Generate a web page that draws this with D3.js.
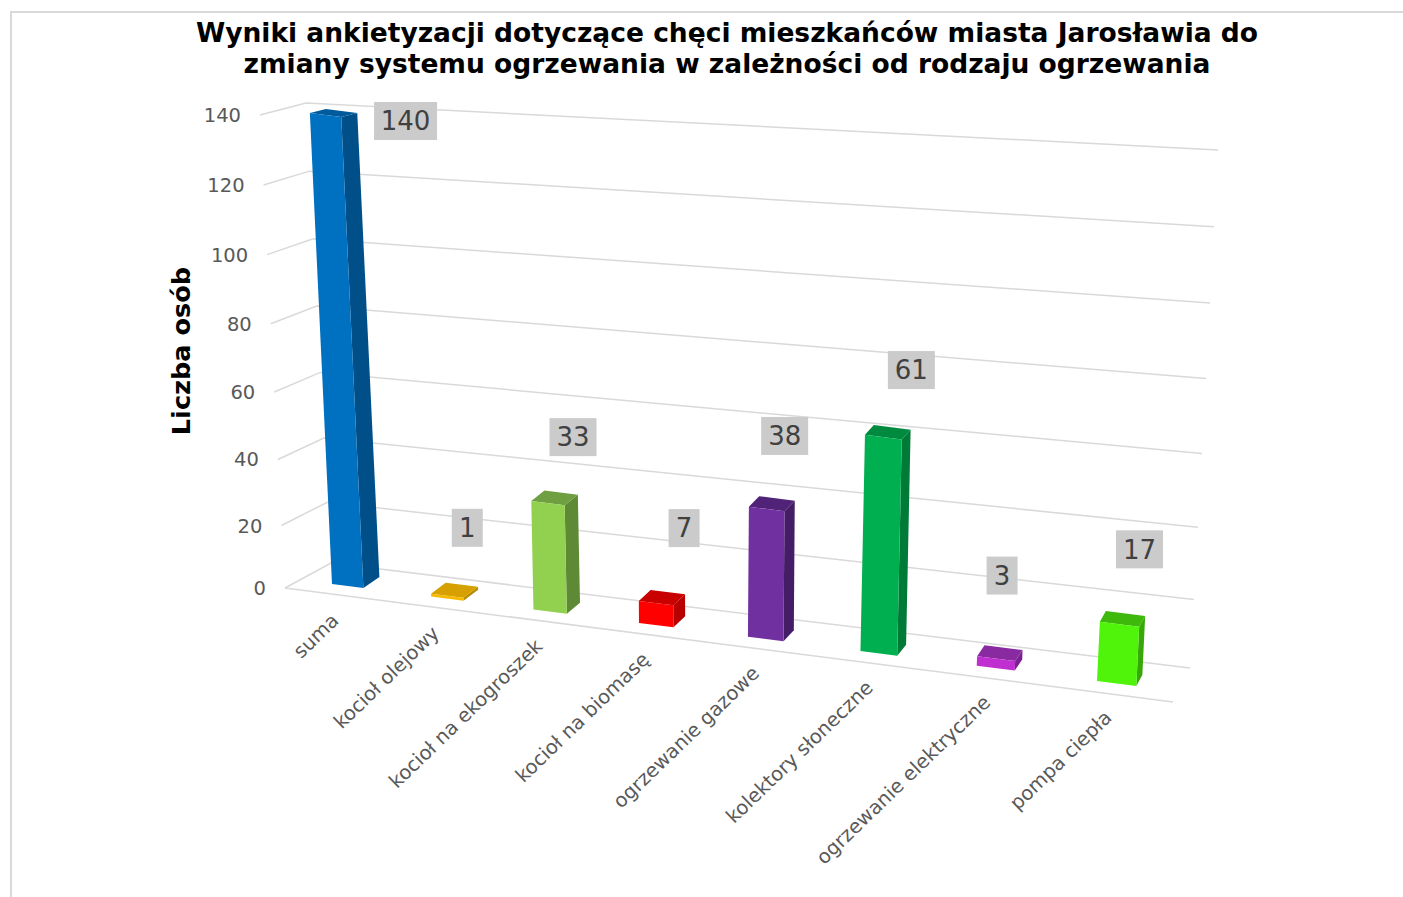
<!DOCTYPE html>
<html>
<head>
<meta charset="utf-8">
<title>Wyniki ankietyzacji</title>
<script src="https://cdnjs.cloudflare.com/ajax/libs/d3/7.8.5/d3.min.js"></script>
<style>
    body { margin: 0; background: #fff; }
    svg { display: block; }
    text { font-family: "DejaVu Sans", sans-serif; }
</style>
</head>
<body>
<div id="chart"></div>
<script>
var categories = ["suma", "kocioł olejowy", "kocioł na ekogroszek", "kocioł na biomasę", "ogrzewanie gazowe", "kolektory słoneczne", "ogrzewanie elektryczne", "pompa ciepła"];
var values = [140, 1, 33, 7, 38, 61, 3, 17];
var valueTicks = [0, 20, 40, 60, 80, 100, 120, 140];
var titleLines = ["Wyniki ankietyzacji dotyczące chęci mieszkańców miasta Jarosławia do", "zmiany systemu ogrzewania w zależności od rodzaju ogrzewania"];
var axisTitle = "Liczba osób";

// front, side, top
var barColors = [
    ["#0070c0", "#004f88", "#005a9c"],
    ["#f7b900", "#b88a00", "#d6a000"],
    ["#92d050", "#5f8a35", "#6f9f40"],
    ["#ff0000", "#b80000", "#c80000"],
    ["#7030a0", "#451d66", "#512378"],
    ["#00b050", "#007a37", "#008a3f"],
    ["#c030d0", "#7a2090", "#8a2aa0"],
    ["#4ff40a", "#38a808", "#3eb80a"]
];
// the labels were placed by hand in the original, offset from the bar top
var labelOffsets = [[80, 6], [20, -68], [25, -66], [28, -75], [18, -73], [28, -67], [6, -83], [20, -75]];

var width = 1403, height = 897;
var svg = d3.select("#chart").append("svg").attr("width", width).attr("height", height);

// frame
svg.append("path").attr("d", "M11,897V12H1403").attr("fill", "none").attr("stroke", "#d9d9d9").attr("stroke-width", 2);

// value scales, slightly non linear because of the 3d view
var wallY = function (r) { return d3.scalePow().exponent(1.04).domain([0, 140]).range(r); };
var wallX = function (r) { return d3.scaleLinear().domain([0, 140]).range(r); };
var frontX = wallX([285, 260]), frontY = wallY([588, 115]);
var backX = wallX([331, 306]), backY = wallY([563, 103]);
var rightX = wallX([1190, 1218]), rightY = wallY([668, 150]);

// category scales
var catScale = d3.scalePoint().domain(d3.range(categories.length)).range([0, 1]);
var k = 1.119;
var perspective = function (t) { return t / (k - (k - 1) * t); };
var floorX = d3.scaleLinear().domain([0, 1]).range([332, 1097]);
var floorY = d3.scaleLinear().domain([332, 1097]).range([584, 681]);
var barStep = 0.0457;
var leanScale = d3.scaleLinear().domain([0, 1]).range([-0.047, 0.048]);
var heightFrac = d3.scalePow().exponent(1.04).domain([0, 140]).range([0, 1]);
var heightScale = d3.scaleLinear().domain([0, 1]).range([471, 530]);
var depthDx = d3.scaleLinear().domain([0, 1]).range([16, 6]);
var depthDy = d3.scalePow().exponent(2).domain([0, 140]).range([-11, -4]);

var corner = function (t, side, depth, v) {
    var x0 = floorX(perspective(t + side * barStep));
    var h = heightFrac(v) * heightScale(t);
    return [
        x0 + leanScale(t) * h + depth * depthDx(t),
        floorY(x0) - h + depth * depthDy(v)
    ];
};
var line = d3.line();
var poly = function (pts) { return line(pts) + "Z"; };

// grid
var grid = svg.append("g").attr("fill", "none").attr("stroke", "#d9d9d9").attr("stroke-width", 1.5);
grid.selectAll("path.tick").data(valueTicks).enter().append("path")
    .attr("class", "tick")
    .attr("d", function (d) {
        return line([[frontX(d), frontY(d)], [backX(d), backY(d)], [rightX(d), rightY(d)]]);
    });
grid.append("path").attr("d", line([[frontX(0), frontY(0)], [1173, 702]]));

// value labels
svg.append("g").selectAll("text").data(valueTicks).enter().append("text")
    .attr("x", function (d) { return frontX(d) - 19; })
    .attr("y", function (d) { return frontY(d); })
    .attr("dy", "0.36em")
    .attr("text-anchor", "end")
    .attr("font-size", 19.5)
    .attr("fill", "#595959")
    .text(function (d) { return d; });

// bars
var bars = svg.append("g").selectAll("g").data(values).enter().append("g");
bars.append("path")
    .attr("fill", function (d, i) { return barColors[i][1]; })
    .attr("d", function (d, i) {
        var t = catScale(i);
        return poly([corner(t, 1, 0, 0), corner(t, 1, 1, 0), corner(t, 1, 1, d), corner(t, 1, 0, d)]);
    });
bars.append("path")
    .attr("fill", function (d, i) { return barColors[i][2]; })
    .attr("d", function (d, i) {
        var t = catScale(i);
        return poly([corner(t, 0, 0, d), corner(t, 1, 0, d), corner(t, 1, 1, d), corner(t, 0, 1, d)]);
    });
bars.append("path")
    .attr("fill", function (d, i) { return barColors[i][0]; })
    .attr("d", function (d, i) {
        var t = catScale(i);
        return poly([corner(t, 0, 0, 0), corner(t, 1, 0, 0), corner(t, 1, 0, d), corner(t, 0, 0, d)]);
    });

// data labels
var labels = svg.append("g").selectAll("g").data(values).enter().append("g")
    .attr("transform", function (d, i) {
        var t = catScale(i);
        var a = corner(t, 0, 0, d), b = corner(t, 1, 0, d);
        return "translate(" + ((a[0] + b[0]) / 2 + labelOffsets[i][0]) + "," + ((a[1] + b[1]) / 2 + labelOffsets[i][1]) + ")";
    });
labels.append("rect")
    .attr("x", function (d) { return -(String(d).length * 16 + 15) / 2; })
    .attr("y", -19)
    .attr("width", function (d) { return String(d).length * 16 + 15; })
    .attr("height", 38)
    .attr("fill", "#cbcbcb");
labels.append("text")
    .attr("text-anchor", "middle")
    .attr("dy", "0.36em")
    .attr("font-size", 26)
    .attr("fill", "#404040")
    .text(function (d) { return d; });

// category labels
svg.append("g").selectAll("text").data(categories).enter().append("text")
    .attr("transform", function (d, i) {
        var t = catScale(i);
        var x0 = floorX(perspective(t));
        return "translate(" + (x0 + 8 + 8 * t) + "," + (floorY(x0) + 38) + ") rotate(-44)";
    })
    .attr("text-anchor", "end")
    .attr("font-size", 19.6)
    .attr("fill", "#595959")
    .text(function (d) { return d; });

// titles
svg.append("g").selectAll("text").data(titleLines).enter().append("text")
    .attr("x", 727)
    .attr("y", function (d, i) { return 42 + i * 31; })
    .attr("text-anchor", "middle")
    .attr("font-size", 26.5)
    .attr("font-weight", "bold")
    .attr("fill", "#000")
    .text(function (d) { return d; });

svg.append("text")
    .attr("transform", "translate(190,351) rotate(-90)")
    .attr("text-anchor", "middle")
    .attr("font-size", 25.6)
    .attr("font-weight", "bold")
    .attr("fill", "#000")
    .text(axisTitle);
</script>
</body>
</html>
